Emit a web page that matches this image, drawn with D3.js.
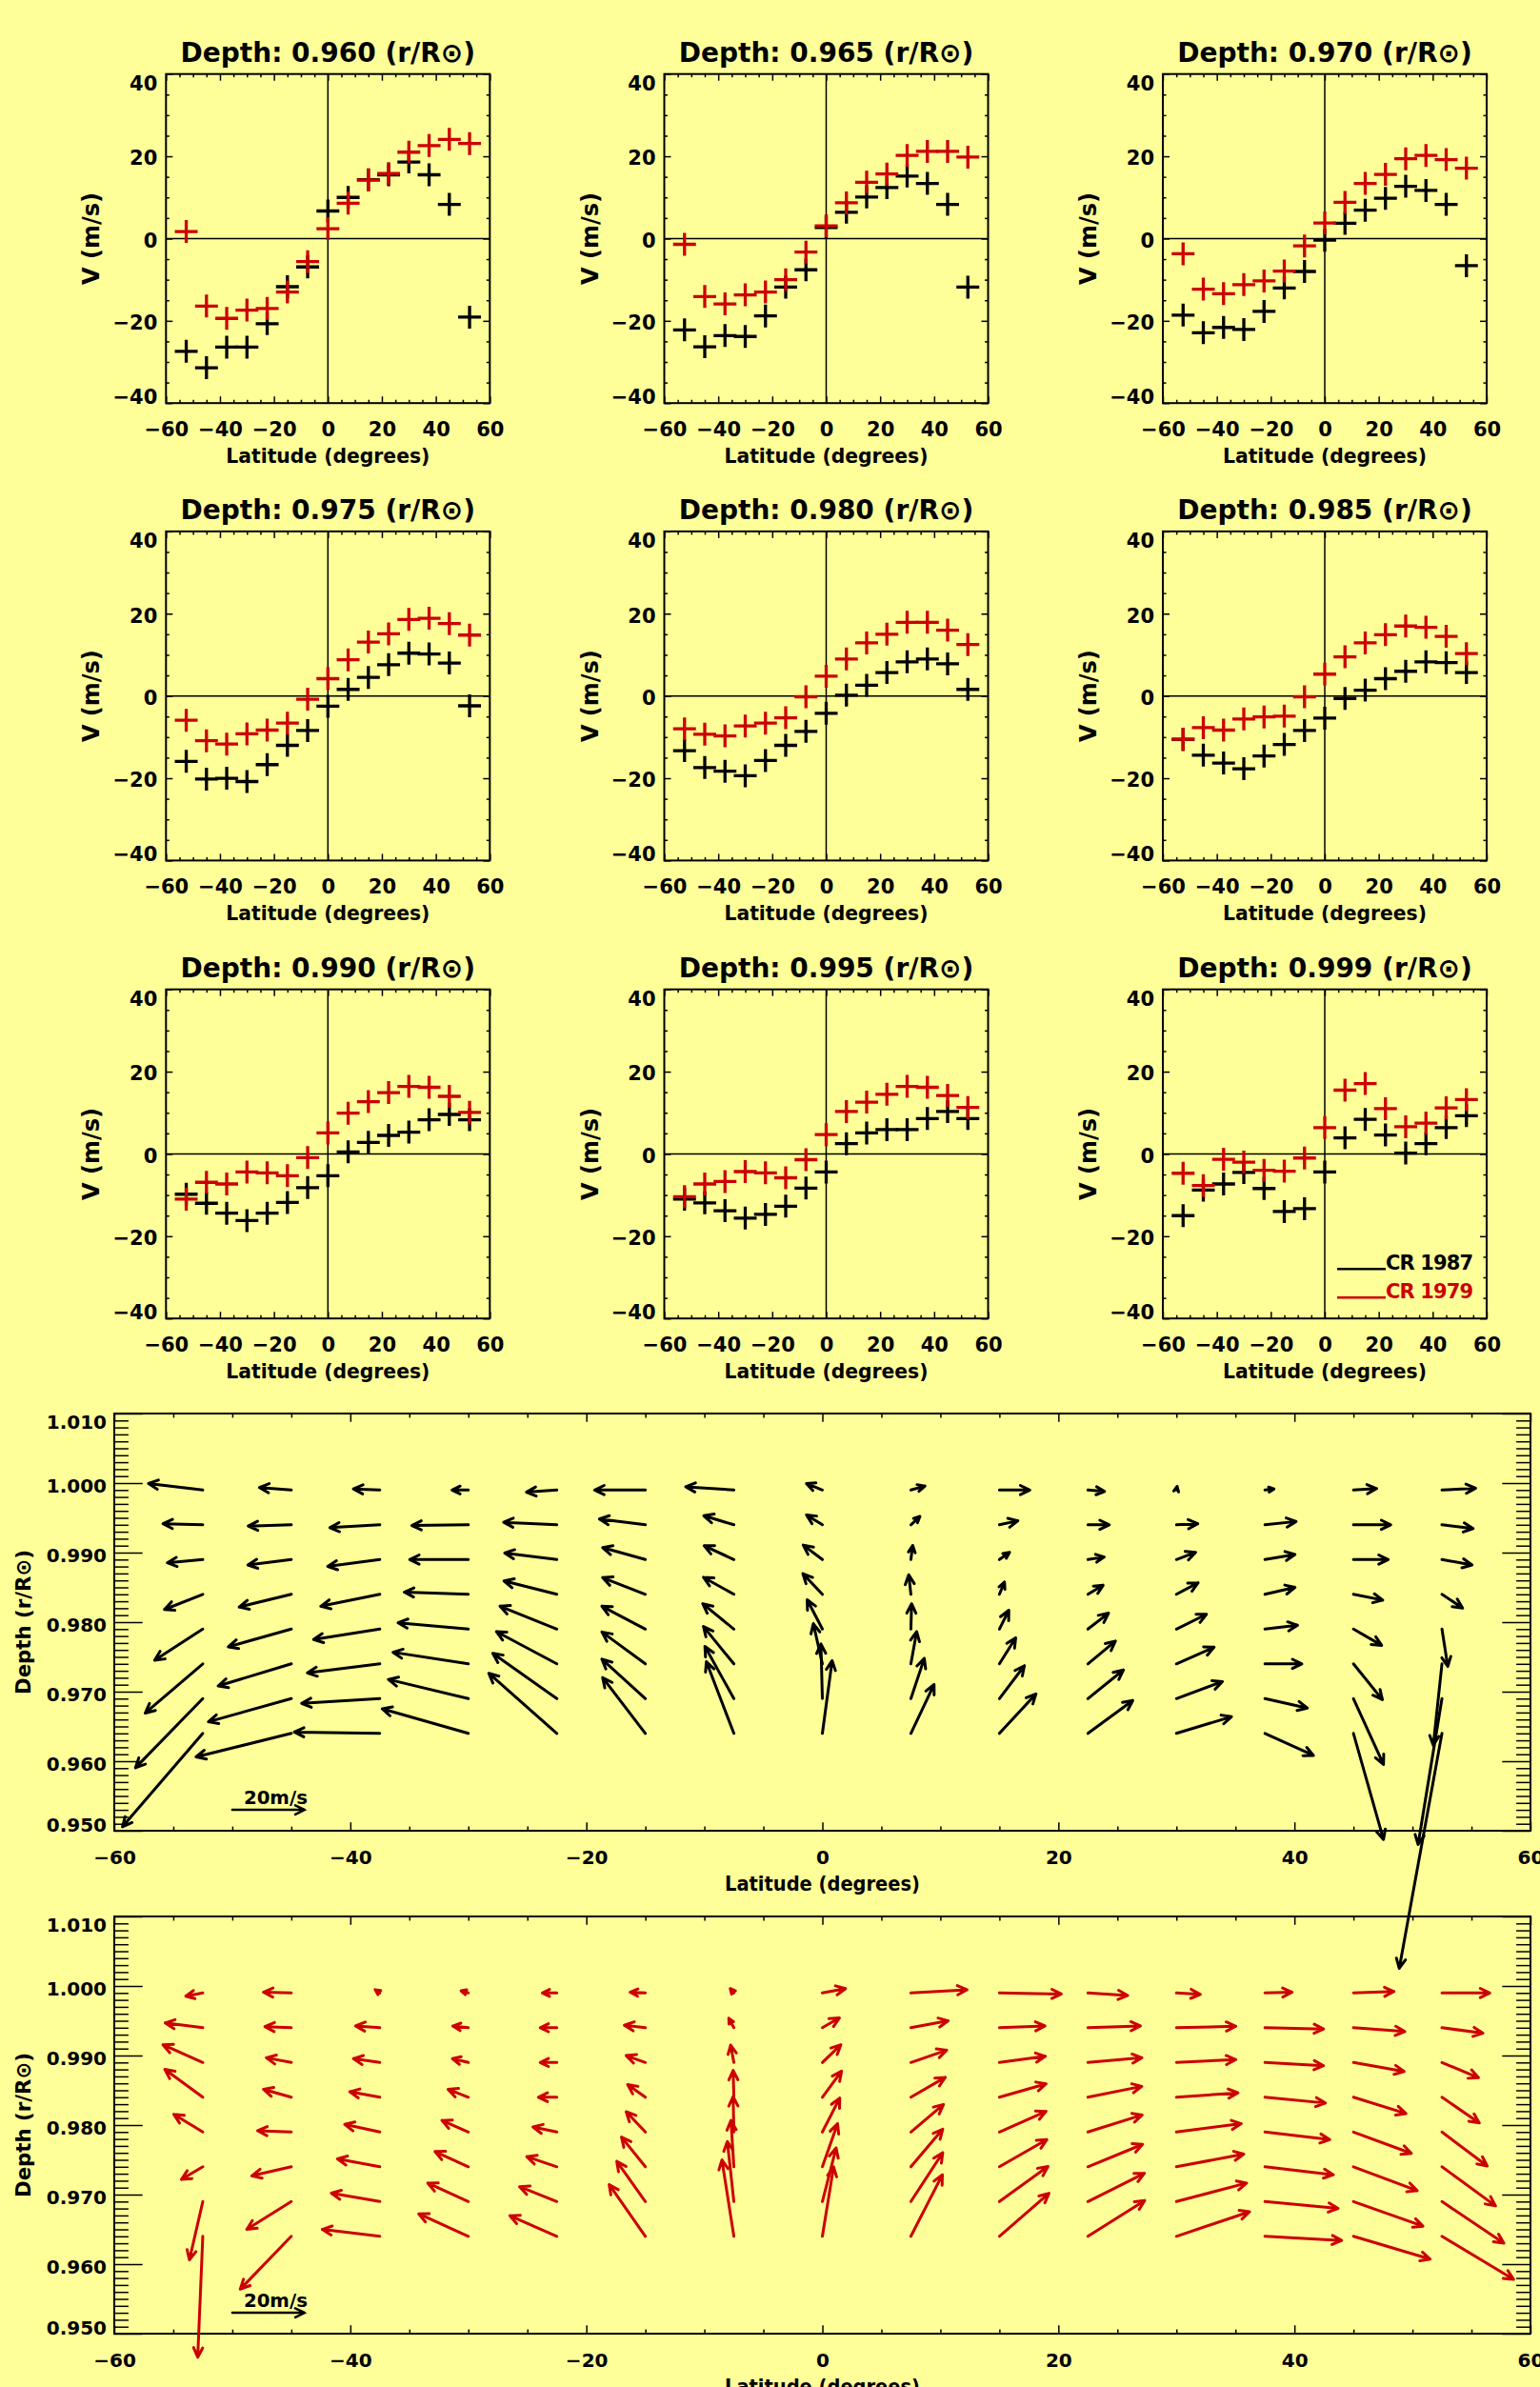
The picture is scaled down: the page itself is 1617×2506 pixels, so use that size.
<!DOCTYPE html>
<html>
<head>
<meta charset="utf-8">
<script src="https://cdn.jsdelivr.net/npm/d3@7"></script>
<style>
body { margin: 0; background: #ffff99; }
svg { display: block; }
text { font-family: "DejaVu Sans", sans-serif; font-weight: bold; }
</style>
</head>
<body>
<svg id="chart" width="1617" height="2506"></svg>
<script>
// Data.
const latitudes = [-52.5, -45, -37.5, -30, -22.5, -15, -7.5, 0, 7.5, 15, 22.5, 30, 37.5, 45, 52.5];
const depths = [0.960, 0.965, 0.970, 0.975, 0.980, 0.985, 0.990, 0.995, 0.999];

// V (m/s), one row per depth, CR 1987 (black)
const vCR1987 = [
    [-27.4, -31.4, -26.4, -26.4, -20.7, -11.7, -6.9, 6.7, 10.0, 14.3, 15.5, 18.6, 15.5, 8.3, -19.1],
    [-22.2, -26.3, -23.6, -23.8, -18.8, -11.8, -7.6, 2.7, 6.4, 10.1, 12.4, 15.2, 13.4, 8.3, -11.8],
    [-18.6, -22.9, -21.6, -22.1, -17.7, -12.0, -8.0, -0.4, 3.7, 6.9, 9.8, 12.7, 11.7, 8.3, -6.6],
    [-15.9, -20.2, -20.0, -20.8, -16.7, -12.0, -8.4, -2.5, 1.6, 4.5, 7.6, 10.4, 10.2, 8.0, -2.4],
    [-13.3, -17.4, -18.3, -19.4, -15.7, -12.0, -8.6, -4.2, 0.2, 2.6, 5.7, 8.3, 9.0, 7.8, 1.6],
    [-10.6, -14.4, -16.3, -17.7, -14.6, -11.8, -8.4, -5.4, -0.6, 1.4, 4.2, 6.0, 8.3, 8.1, 5.7],
    [-9.8, -12.0, -14.4, -16.2, -14.4, -11.8, -8.2, -5.3, 0.5, 2.8, 4.5, 5.3, 8.3, 9.6, 8.3],
    [-11.0, -11.9, -13.8, -15.6, -14.7, -12.7, -8.3, -4.4, 2.5, 5.1, 5.9, 5.9, 8.6, 10.3, 8.6],
    [-15.0, -8.8, -7.3, -4.5, -8.4, -14.0, -13.3, -4.4, 3.9, 8.4, 4.6, 0.2, 2.5, 6.4, 9.3]
];

// V (m/s), one row per depth, CR 1979 (red)
const vCR1979 = [
    [1.7, -16.4, -19.4, -17.4, -17.0, -13.0, -5.6, 2.4, 8.6, 14.2, 15.8, 21.0, 22.6, 24.1, 23.1],
    [-1.4, -14.1, -15.9, -13.7, -13.0, -10.0, -3.3, 3.1, 8.7, 13.7, 15.7, 20.2, 21.2, 21.2, 19.8],
    [-3.7, -12.3, -13.4, -11.2, -10.3, -7.9, -1.8, 3.8, 8.8, 13.4, 15.6, 19.4, 20.2, 19.2, 17.1],
    [-5.9, -10.9, -11.7, -9.2, -8.3, -6.6, -0.8, 4.2, 8.8, 13.1, 15.1, 18.6, 18.9, 17.6, 14.8],
    [-8.0, -9.3, -9.7, -7.3, -6.6, -5.3, -0.2, 4.8, 9.0, 12.9, 15.0, 17.9, 17.9, 16.0, 12.5],
    [-10.5, -7.7, -8.3, -5.6, -5.1, -4.9, -0.2, 5.3, 9.5, 12.9, 14.9, 17.0, 16.7, 14.5, 10.3],
    [-11.0, -6.9, -7.3, -4.4, -4.6, -5.3, -0.9, 5.1, 9.9, 12.7, 14.9, 16.4, 16.2, 14.0, 10.1],
    [-10.4, -7.3, -6.7, -4.3, -4.6, -5.8, -1.4, 4.7, 10.3, 12.6, 14.5, 16.4, 16.2, 14.2, 11.3],
    [-4.7, -7.7, -1.3, -2.0, -4.0, -4.2, -1.0, 6.4, 15.5, 17.1, 11.0, 6.6, 7.5, 11.2, 13.2]
];

// Arrow rows of the flow maps (depths 0.965 ... 0.999) and where they sit on the axis
const arrowRows = [0.964, 0.969, 0.974, 0.979, 0.984, 0.989, 0.994, 0.999];

// Vertical component (m/s) of the arrows, one row per arrow row
const wCR1987 = [
    [-25.8, -6.5, 0.35, 6.8, 16.6, 15.4, 19.8, 20.1, 13.5, 10.9, 9.1, 4.6, -6.1, -29.3, -64.9],
    [-19.1, -6.4, -1.3, 5.3, 12.5, 10.9, 14.4, 15.1, 11.1, 9.1, 7.9, 4.7, -2.6, -18.2, -40.3],
    [-13.6, -6.1, -2.5, 3.2, 8.9, 8.8, 10.3, 11.1, 8.9, 7.2, 6.3, 4.6, 0, -9.9, -22.5],
    [-8.6, -4.9, -2.9, 1.75, 6.3, 6.3, 7.0, 8.1, 7.0, 5.2, 4.4, 4.1, 1.05, -4.5, -10.3],
    [-4.2, -3.5, -3.3, 0.6, 3.7, 4.6, 4.7, 5.7, 5.4, 3.4, 2.5, 3.2, 1.9, -1.6, -3.8],
    [-0.9, -1.5, -1.9, 0, 1.8, 3.3, 3.8, 4.0, 3.9, 2.0, 0.7, 2.0, 1.4, 0, -1.5],
    [0.3, -0.35, -0.8, -0.2, 0.7, 1.6, 2.5, 2.7, 2.3, 1.1, 0, 0.3, 0.9, 0, -1.05],
    [1.8, 0.7, 0.3, 0, -0.6, 0, 0.9, 1.8, 1.1, 0, -0.4, 1.0, 0.3, 0.4, 0.5]
];

const wCR1979 = [
    [-33.4, -14.6, 1.9, 6.2, 5.7, 14.3, 21.1, 19.2, 17.0, 11.9, 9.9, 6.8, -1.15, -6.3, -11.9],
    [-16.1, -7.7, 2.3, 5.1, 4.1, 11.1, 16.6, 14.8, 13.5, 9.7, 7.8, 5.1, -1.9, -6.8, -11.5],
    [-3.5, -2.5, 2.2, 4.2, 2.8, 8.2, 12.8, 11.9, 10.4, 7.5, 6.2, 3.5, -2.2, -6.6, -10.8],
    [4.9, 0.35, 2.1, 3.2, 1.4, 5.6, 9.8, 9.4, 7.6, 5.7, 4.7, 2.3, -2.1, -5.9, -9.4],
    [7.7, 2.2, 1.5, 2.2, 0, 3.5, 7.4, 7.2, 5.5, 3.7, 3.0, 1.2, -1.6, -4.5, -7.1],
    [4.9, 1.3, 1.05, 1.05, 0, 1.9, 4.8, 4.9, 3.4, 1.7, 1.3, 0.8, -0.9, -2.5, -4.2],
    [1.3, 0.3, 0.5, 0.45, 0, 0.7, 2.6, 2.7, 1.9, 0.5, 0.5, 0.4, -0.35, -1.05, -1.5],
    [-0.9, 0.2, 0.9, 0.6, 0, 0.2, 1.2, 1.2, 0.9, -0.3, -0.7, -0.4, 0.2, 0.4, 0]
];

const series = [
    { name: 'CR 1987', color: '#000000', v: vCR1987, w: wCR1987 },
    { name: 'CR 1979', color: '#cc0000', v: vCR1979, w: wCR1979 }
];

// Layout.
const width = 1617;
const height = 2506;
const panelW = 340;
const panelH = 345.5;
const panelLefts = [174.3, 697.5, 1221];
const panelTops = [77.7, 557.9, 1038.7];
const mapLeft = 120, mapRight = 1607, mapH = 438;
const mapTops = [1484, 2012];

const svg = d3.select('#chart');
svg.append('rect').attr('width', width).attr('height', height).attr('fill', '#ffff99');

function styleAxis(g, fontSize) {
    g.attr('font-size', fontSize)
     .attr('font-family', '"DejaVu Sans", sans-serif')
     .attr('font-weight', 'bold');
    g.select('.domain').remove();
    g.selectAll('.tick line').attr('stroke', '#000').attr('stroke-width', 1.5);
    g.selectAll('.tick text').attr('fill', '#000');
}

// Small panels: V against latitude at each depth.
depths.forEach((depth, i) => {
    const col = i % 3, row = Math.floor(i / 3);
    const g = svg.append('g')
                 .attr('transform', `translate(${panelLefts[col]},${panelTops[row]})`);
    const x = d3.scaleLinear().domain([-60, 60]).range([0, panelW]);
    const y = d3.scaleLinear().domain([-40, 40]).range([panelH, 0]);

    const xMajor = d3.range(-60, 61, 20);
    const xMinor = d3.range(-60, 61, 5).filter(d => d % 20 !== 0);
    const yMajor = d3.range(-40, 41, 20);
    const yMinor = d3.range(-40, 41, 5).filter(d => d % 20 !== 0);

    g.append('g').attr('transform', `translate(0,${panelH})`)
     .call(d3.axisBottom(x).tickValues(xMajor).tickSizeInner(-7).tickSizeOuter(0).tickPadding(20))
     .call(a => styleAxis(a, 21));
    g.append('g').attr('transform', `translate(0,${panelH})`)
     .call(d3.axisBottom(x).tickValues(xMinor).tickSizeInner(-3.5).tickSizeOuter(0).tickFormat(''))
     .call(a => styleAxis(a, 21));
    g.append('g')
     .call(d3.axisTop(x).tickValues(xMajor).tickSizeInner(-7).tickSizeOuter(0).tickFormat(''))
     .call(a => styleAxis(a, 21));
    g.append('g')
     .call(d3.axisTop(x).tickValues(xMinor).tickSizeInner(-3.5).tickSizeOuter(0).tickFormat(''))
     .call(a => styleAxis(a, 21));

    g.append('g')
     .call(d3.axisLeft(y).tickValues(yMajor).tickSizeInner(-7).tickSizeOuter(0).tickPadding(9))
     .call(a => styleAxis(a, 21))
     .call(a => a.selectAll('.tick text')
                 .attr('dy', d => d === 40 ? '0.8em' : d === -40 ? '0em' : '0.42em'));
    g.append('g')
     .call(d3.axisLeft(y).tickValues(yMinor).tickSizeInner(-3.5).tickSizeOuter(0).tickFormat(''))
     .call(a => styleAxis(a, 21));
    g.append('g').attr('transform', `translate(${panelW},0)`)
     .call(d3.axisRight(y).tickValues(yMajor).tickSizeInner(-7).tickSizeOuter(0).tickFormat(''))
     .call(a => styleAxis(a, 21));
    g.append('g').attr('transform', `translate(${panelW},0)`)
     .call(d3.axisRight(y).tickValues(yMinor).tickSizeInner(-3.5).tickSizeOuter(0).tickFormat(''))
     .call(a => styleAxis(a, 21));

    // Frame and zero lines.
    g.append('rect').attr('width', panelW).attr('height', panelH)
     .attr('fill', 'none').attr('stroke', '#000').attr('stroke-width', 2);
    g.append('line').attr('x1', 0).attr('x2', panelW).attr('y1', y(0)).attr('y2', y(0))
     .attr('stroke', '#000').attr('stroke-width', 1.5);
    g.append('line').attr('x1', x(0)).attr('x2', x(0)).attr('y1', 0).attr('y2', panelH)
     .attr('stroke', '#000').attr('stroke-width', 1.5);

    // Title and axis titles.
    g.append('text').attr('x', panelW / 2).attr('y', -13)
     .attr('text-anchor', 'middle').attr('font-size', 28)
     .text(`Depth: ${d3.format('.3f')(depth)} (r/R⊙)`);
    g.append('text').attr('x', panelW / 2).attr('y', panelH + 63)
     .attr('text-anchor', 'middle').attr('font-size', 22)
     .attr('textLength', 214).attr('lengthAdjust', 'spacingAndGlyphs')
     .text('Latitude (degrees)');
    g.append('text').attr('transform', `translate(-70,${panelH / 2}) rotate(-90)`)
     .attr('text-anchor', 'middle').attr('font-size', 24)
     .text('V (m/s)');

    // Plus markers, black first, red on top.
    series.forEach(s => {
        g.append('g').selectAll('path')
         .data(latitudes.map((lat, j) => [lat, s.v[i][j]]))
         .join('path')
         .attr('d', d => `M${x(d[0]) - 12},${y(d[1])}H${x(d[0]) + 12}M${x(d[0])},${y(d[1]) - 12}V${y(d[1]) + 12}`)
         .attr('stroke', s.color).attr('stroke-width', 3.3).attr('fill', 'none');
    });

    // Legend in the last panel.
    if (i === depths.length - 1) {
        series.forEach((s, k) => {
            const ly = 293.5 + k * 30;
            g.append('line').attr('x1', 183).attr('x2', 234).attr('y1', ly).attr('y2', ly)
             .attr('stroke', s.color).attr('stroke-width', 2.5);
            g.append('text').attr('x', 234).attr('y', ly + 1).attr('font-size', 21)
             .attr('fill', s.color).attr('textLength', 92).attr('lengthAdjust', 'spacing')
             .text(s.name);
        });
    }
});

// Flow maps: arrows of (V, w) on a latitude / depth grid.
const speed = d3.scaleLinear().domain([0, 20]).range([0, 76]);

function arrowPath(x0, y0, x1, y1) {
    const dx = x1 - x0, dy = y1 - y0;
    const len = Math.hypot(dx, dy);
    const h = Math.min(11, Math.max(6, 0.55 * len));
    const a = Math.atan2(dy, dx), s = 0.45;
    return `M${x0},${y0}L${x1},${y1}` +
           `M${x1 - h * Math.cos(a - s)},${y1 - h * Math.sin(a - s)}L${x1},${y1}` +
           `L${x1 - h * Math.cos(a + s)},${y1 - h * Math.sin(a + s)}`;
}

series.forEach((s, m) => {
    const top = mapTops[m];
    const g = svg.append('g');
    const x = d3.scaleLinear().domain([-60, 60]).range([mapLeft, mapRight]);
    const y = d3.scaleLinear().domain([0.95, 1.01]).range([top + mapH, top]);

    const xMajor = d3.range(-60, 61, 20);
    const xMinor = d3.range(-60, 61, 5).filter(d => d % 20 !== 0);
    const yMajor = d3.range(0, 7).map(k => 0.95 + k * 0.01);
    const yMinor = d3.range(0, 61).filter(k => k % 10 !== 0).map(k => 0.95 + k * 0.001);
    const fmt = d3.format('.3f');

    g.append('g').attr('transform', `translate(0,${top + mapH})`)
     .call(d3.axisBottom(x).tickValues(xMajor).tickSizeInner(-8.8).tickSizeOuter(0).tickPadding(21))
     .call(a => styleAxis(a, 20));
    g.append('g').attr('transform', `translate(0,${top + mapH})`)
     .call(d3.axisBottom(x).tickValues(xMinor).tickSizeInner(-4.4).tickSizeOuter(0).tickFormat(''))
     .call(a => styleAxis(a, 20));
    g.append('g').attr('transform', `translate(0,${top})`)
     .call(d3.axisTop(x).tickValues(xMajor).tickSizeInner(-8.8).tickSizeOuter(0).tickFormat(''))
     .call(a => styleAxis(a, 20));
    g.append('g').attr('transform', `translate(0,${top})`)
     .call(d3.axisTop(x).tickValues(xMinor).tickSizeInner(-4.4).tickSizeOuter(0).tickFormat(''))
     .call(a => styleAxis(a, 20));

    g.append('g').attr('transform', `translate(${mapLeft},0)`)
     .call(d3.axisLeft(y).tickValues(yMajor).tickFormat(fmt).tickSizeInner(-29.7).tickSizeOuter(0).tickPadding(8))
     .call(a => styleAxis(a, 20))
     .call(a => a.selectAll('.tick text')
                 .attr('dy', (d, k) => k === yMajor.length - 1 ? '0.77em' : k === 0 ? '0.02em' : '0.46em'));
    g.append('g').attr('transform', `translate(${mapLeft},0)`)
     .call(d3.axisLeft(y).tickValues(yMinor).tickSizeInner(-14.9).tickSizeOuter(0).tickFormat(''))
     .call(a => styleAxis(a, 20));
    g.append('g').attr('transform', `translate(${mapRight},0)`)
     .call(d3.axisRight(y).tickValues(yMajor).tickSizeInner(-29.7).tickSizeOuter(0).tickFormat(''))
     .call(a => styleAxis(a, 20));
    g.append('g').attr('transform', `translate(${mapRight},0)`)
     .call(d3.axisRight(y).tickValues(yMinor).tickSizeInner(-14.9).tickSizeOuter(0).tickFormat(''))
     .call(a => styleAxis(a, 20));

    g.append('rect').attr('x', mapLeft).attr('y', top)
     .attr('width', mapRight - mapLeft).attr('height', mapH)
     .attr('fill', 'none').attr('stroke', '#000').attr('stroke-width', 2);

    g.append('text').attr('x', x(0)).attr('y', top + mapH + 63)
     .attr('text-anchor', 'middle').attr('font-size', 22)
     .attr('textLength', 205).attr('lengthAdjust', 'spacingAndGlyphs')
     .text('Latitude (degrees)');
    g.append('text').attr('transform', `translate(32,${top + mapH / 2}) rotate(-90)`)
     .attr('text-anchor', 'middle').attr('font-size', 22)
     .attr('textLength', 152).attr('lengthAdjust', 'spacingAndGlyphs')
     .text('Depth (r/R⊙)');

    // Arrows: tail on the grid point, horizontal part V, vertical part w.
    const arrows = [];
    arrowRows.forEach((r, k) => {
        latitudes.forEach((lat, j) => {
            arrows.push({ lat: lat, r: r, u: s.v[k + 1][j], w: s.w[k][j] });
        });
    });
    g.append('g').selectAll('path')
     .data(arrows)
     .join('path')
     .attr('d', d => {
         const x0 = x(d.lat), y0 = y(d.r);
         const x1 = x0 + Math.sign(d.u) * speed(Math.abs(d.u));
         const y1 = y0 - Math.sign(d.w) * speed(Math.abs(d.w));
         return arrowPath(x0, y0, x1, y1);
     })
     .attr('stroke', s.color).attr('stroke-width', 3)
     .attr('stroke-linecap', 'round').attr('stroke-linejoin', 'round')
     .attr('fill', 'none');

    // 20 m/s reference arrow.
    const rx = x(-50), ry = y(0.953);
    g.append('path').attr('d', arrowPath(rx, ry, rx + speed(20), ry))
     .attr('stroke', '#000').attr('stroke-width', 2.5)
     .attr('stroke-linecap', 'round').attr('fill', 'none');
    g.append('text').attr('x', rx + 12).attr('y', ry - 6).attr('font-size', 19)
     .attr('textLength', 67).attr('lengthAdjust', 'spacingAndGlyphs')
     .text('20m/s');
});
</script>
</body>
</html>
